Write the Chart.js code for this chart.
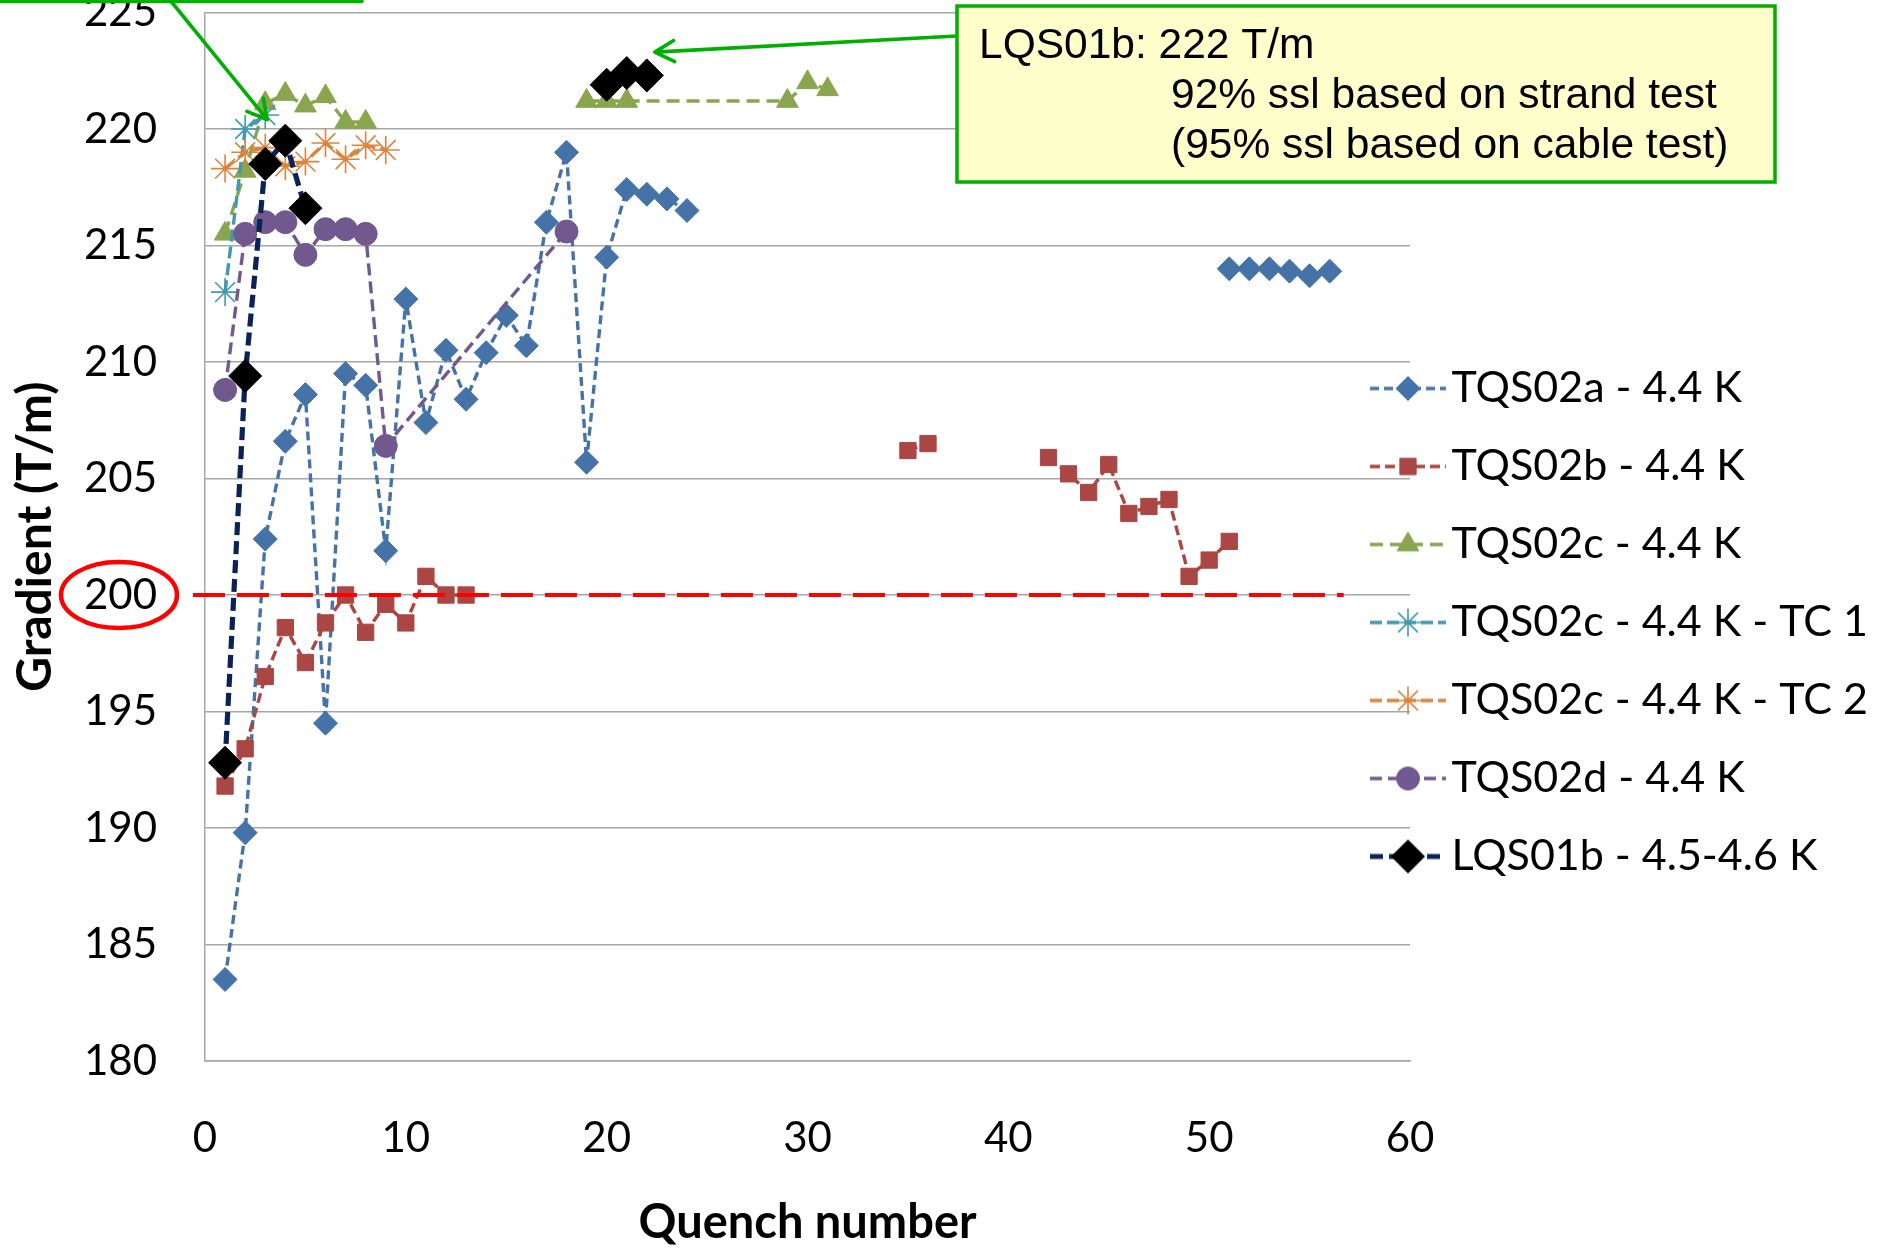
<!DOCTYPE html>
<html>
<head>
<meta charset="utf-8">
<title>Quench training</title>
<script src="https://cdn.jsdelivr.net/npm/chart.js@4.4.1/dist/chart.umd.min.js"></script>
<style>
  html, body { margin: 0; padding: 0; background: #fff; }
</style>
</head>
<body>
<canvas id="quenchChart" width="1883" height="1253"></canvas>
<script>
// quench number and gradient (T/m) reached, one pair of arrays per magnet test
const tqs02aQ = [1, 2, 3, 4, 5, 6, 7, 8, 9, 10, 11, 12, 13, 14, 15, 16, 17, 18, 19, 20, 21, 22, 23, 24, 51, 52, 53, 54, 55, 56];
const tqs02aG = [183.5, 189.8, 202.4, 206.6, 208.6, 194.5, 209.5, 209.0, 201.9, 212.7, 207.4, 210.5, 208.4, 210.4, 212.0, 210.7, 216.0, 219.0, 205.7, 214.5, 217.4, 217.2, 217.0, 216.5, 214.0, 214.0, 214.0, 213.9, 213.7, 213.9];

const tqs02bQ = [1, 2, 3, 4, 5, 6, 7, 8, 9, 10, 11, 12, 13, 35, 36, 42, 43, 44, 45, 46, 47, 48, 49, 50, 51];
const tqs02bG = [191.8, 193.4, 196.5, 198.6, 197.1, 198.8, 200.0, 198.4, 199.6, 198.8, 200.8, 200.0, 200.0, 206.2, 206.5, 205.9, 205.2, 204.4, 205.6, 203.5, 203.8, 204.1, 200.8, 201.5, 202.3];

const tqs02cQ = [1, 2, 3, 4, 5, 6, 7, 8, 19, 20, 21, 29, 30, 31];
const tqs02cG = [215.5, 218.2, 221.1, 221.5, 221.0, 221.4, 220.3, 220.3, 221.2, 221.2, 221.2, 221.2, 222.0, 221.7];

const tc1Q = [1, 2, 3];
const tc1G = [213.0, 220.0, 220.6];

const tc2Q = [1, 2, 3, 4, 5, 6, 7, 8, 9];
const tc2G = [218.3, 219.0, 219.2, 218.4, 218.6, 219.4, 218.7, 219.3, 219.1];

const tqs02dQ = [1, 2, 3, 4, 5, 6, 7, 8, 9, 18];
const tqs02dG = [208.8, 215.5, 216.0, 216.0, 214.6, 215.7, 215.7, 215.5, 206.4, 215.6];

const lqs01bQ = [1, 2, 3, 4, 5, 20, 21, 22];
const lqs01bG = [192.8, 209.4, 218.5, 219.5, 216.6, 221.9, 222.4, 222.3];

// 200 T/m target line, drawn a little past the axis on the left
const targetGradient = 200;
const targetFrom = -0.6;
const targetTo = 56.7;

// axis ticks
const xTicks = { min: 0, max: 60, step: 10 };
const yTicks = { min: 180, max: 225, step: 5 };

const series = [
  { label: 'TQS02a - 4.4 K', q: tqs02aQ, g: tqs02aG, line: '#4572A7', fill: '#4572A7', style: 'rectRot', radius: 12, dash: [9, 5], width: 3.4, gap: 5 },
  { label: 'TQS02b - 4.4 K', q: tqs02bQ, g: tqs02bG, line: '#AA4643', fill: '#AA4643', style: 'rect', radius: 11.5, dash: [10, 5], width: 3.4, gap: 3 },
  { label: 'TQS02c - 4.4 K', q: tqs02cQ, g: tqs02cG, line: '#89A54E', fill: '#89A54E', style: 'triangle', radius: 12.5, dash: [13, 7], width: 3.4, gap: 9 },
  { label: 'TQS02c - 4.4 K - TC 1', q: tc1Q, g: tc1G, line: '#4198AF', fill: '#4198AF', style: 'star', radius: 14, dash: [12, 5], width: 3.4, gap: 5 },
  { label: 'TQS02c - 4.4 K - TC 2', q: tc2Q, g: tc2G, line: '#DB843D', fill: '#DB843D', style: 'star', radius: 14, dash: [12, 5], width: 3.4, gap: 5 },
  { label: 'TQS02d - 4.4 K', q: tqs02dQ, g: tqs02dG, line: '#71588F', fill: '#71588F', style: 'circle', radius: 11.5, dash: [12, 6], width: 3.4, gap: 10 },
  { label: 'LQS01b - 4.5-4.6 K', q: lqs01bQ, g: lqs01bG, line: '#0B2259', fill: '#000000', style: 'rectRot', radius: 16.5, dash: [13, 6], width: 5.2, gap: 5 }
];

const gridColor = '#A6A6A6';
const green = '#00B000';

Chart.defaults.font.family = 'Lato';
Chart.defaults.color = '#000';

function markerBorder(s) {
  return s.style === 'star' ? 1.6 : 1;
}

function legendIcon(s) {
  const c = document.createElement('canvas');
  c.width = 76;
  c.height = 36;
  const g = c.getContext('2d');
  g.strokeStyle = s.line;
  g.lineWidth = s.width;
  g.setLineDash(s.dash);
  g.beginPath();
  g.moveTo(0, 18);
  g.lineTo(76, 18);
  g.stroke();
  g.setLineDash([]);
  g.fillStyle = s.fill;
  g.strokeStyle = s.fill;
  g.lineWidth = markerBorder(s);
  Chart.helpers.drawPoint(g, { pointStyle: s.style, radius: s.radius, borderWidth: markerBorder(s), rotation: 0 }, 38, 18);
  return c;
}
const icons = series.map(legendIcon);

const datasets = series.map((s, i) => ({
  label: s.label,
  data: s.q.map((q, k) => ({ x: q, y: s.g[k] })),
  borderColor: s.line,
  borderWidth: s.width,
  borderDash: s.dash,
  pointStyle: s.style,
  pointRadius: s.radius,
  pointBackgroundColor: s.fill,
  pointBorderColor: s.fill,
  pointBorderWidth: markerBorder(s),
  spanGaps: s.gap,
  fill: false,
  tension: 0,
  order: series.length - i
}));

datasets.push({
  label: 'target',
  data: [{ x: targetFrom, y: targetGradient }, { x: targetTo, y: targetGradient }],
  borderColor: '#FF0000',
  borderWidth: 4,
  borderDash: [32, 12],
  pointRadius: 0,
  fill: false,
  clip: false,
  order: 0
});

function arrow(ctx, x0, y0, x1, y1) {
  const a = Math.atan2(y1 - y0, x1 - x0);
  const len = 22, spread = 0.5;
  ctx.beginPath();
  ctx.moveTo(x0, y0);
  ctx.lineTo(x1, y1);
  ctx.moveTo(x1 - len * Math.cos(a - spread), y1 - len * Math.sin(a - spread));
  ctx.lineTo(x1, y1);
  ctx.lineTo(x1 - len * Math.cos(a + spread), y1 - len * Math.sin(a + spread));
  ctx.stroke();
}

const notes = {
  id: 'notes',
  beforeDraw(chart) {
    // legend sits partly over the plot's right margin
    const lg = chart.legend;
    lg.left = 1351;
    lg.top = 332;
  },
  afterDraw(chart) {
    const ctx = chart.ctx;
    const xs = chart.scales.x;
    const ys = chart.scales.y;
    ctx.save();

    // ring round the 200 label
    ctx.strokeStyle = '#FF0000';
    ctx.lineWidth = 4.5;
    ctx.beginPath();
    ctx.ellipse(119, ys.getPixelForValue(targetGradient), 58, 33, 0, 0, Math.PI * 2);
    ctx.stroke();

    // bottom edge of the upper-left callout and its arrow
    ctx.strokeStyle = green;
    ctx.lineWidth = 3.6;
    ctx.lineCap = 'round';
    ctx.lineJoin = 'round';
    ctx.beginPath();
    ctx.moveTo(0, 1.5);
    ctx.lineTo(362, 1.5);
    ctx.stroke();
    arrow(ctx, 170, 0, xs.getPixelForValue(3.1), ys.getPixelForValue(220.4));

    // LQS01b callout
    arrow(ctx, 957, 36, xs.getPixelForValue(22.4), ys.getPixelForValue(223.3));
    ctx.fillStyle = '#FFFFCC';
    ctx.fillRect(957, 6, 818, 176);
    ctx.lineWidth = 3.5;
    ctx.lineCap = 'butt';
    ctx.lineJoin = 'miter';
    ctx.strokeRect(957, 6, 818, 176);
    ctx.fillStyle = '#000';
    ctx.font = '42.5px "Liberation Sans", Arial, sans-serif';
    ctx.textBaseline = 'alphabetic';
    ctx.fillText('LQS01b: 222 T/m', 979, 58);
    ctx.fillText('92% ssl based on strand test', 1171, 108);
    ctx.fillText('(95% ssl based on cable test)', 1171, 158);

    ctx.restore();
  }
};

new Chart(document.getElementById('quenchChart'), {
  type: 'line',
  data: { datasets: datasets },
  options: {
    responsive: false,
    animation: false,
    layout: { autoPadding: false, padding: { top: 12.5, left: 0, right: 0, bottom: 0 } },
    scales: {
      x: {
        type: 'linear',
        min: xTicks.min,
        max: xTicks.max,
        ticks: { stepSize: xTicks.step, padding: 52, font: { size: 42 } },
        grid: { display: false, drawTicks: false },
        border: { display: true, color: gridColor, width: 1.5 },
        title: { display: true, text: 'Quench number', font: { size: 47, weight: 'bold' }, padding: { top: 0, bottom: 2 } },
        afterFit(scale) {
          scale.height = 192;
          scale.paddingLeft = 0;
          scale.paddingRight = 0;
        }
      },
      y: {
        min: yTicks.min,
        max: yTicks.max,
        ticks: { stepSize: yTicks.step, padding: 48, font: { size: 42 } },
        grid: { color: gridColor, lineWidth: 1.5, drawTicks: false },
        border: { display: true, color: gridColor, width: 1.5 },
        title: { display: true, text: 'Gradient (T/m)', font: { size: 48, weight: 'bold' }, padding: { top: 7, bottom: 0 } },
        afterFit(scale) {
          scale.width = 205;
          scale.paddingTop = 0;
          scale.paddingBottom = 0;
        }
      }
    },
    plugins: {
      tooltip: { enabled: false },
      legend: {
        position: 'right',
        align: 'start',
        maxWidth: 473,
        labels: {
          usePointStyle: true,
          pointStyleWidth: 44,
          padding: 35,
          font: { size: 43 },
          filter: item => item.datasetIndex < series.length,
          sort: (a, b) => a.datasetIndex - b.datasetIndex,
          generateLabels(chart) {
            const items = Chart.defaults.plugins.legend.labels.generateLabels(chart);
            items.forEach(it => {
              if (it.datasetIndex < series.length) it.pointStyle = icons[it.datasetIndex];
            });
            return items;
          }
        }
      }
    }
  },
  plugins: [notes]
});
</script>
</body>
</html>
